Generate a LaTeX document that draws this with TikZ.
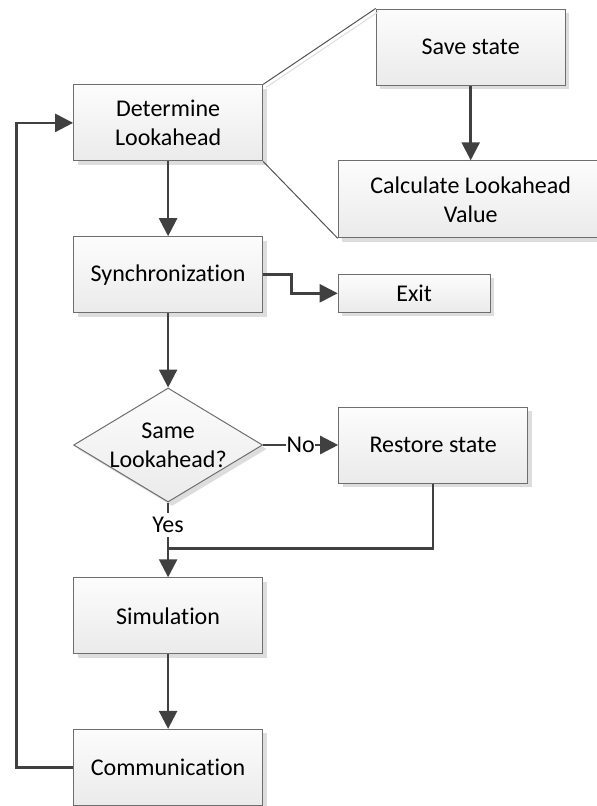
\documentclass[tikz,border=0pt]{standalone}
\usepackage{fontspec}
\setmainfont[Ligatures={NoCommon,NoContextual},Contextuals=NoAlternate]{Carlito}
\usetikzlibrary{shapes.geometric,arrows.meta,shadows}
\definecolor{edge}{HTML}{404040}
\definecolor{rim}{HTML}{6E6E6E}
\definecolor{shade}{HTML}{DDDDDD}
% keep the letters t and i apart
\newcommand{\tisplit}{t\kern0pt i}
\begin{document}
\begin{tikzpicture}[x=1pt,y=-1pt,
  font=\fontsize{24}{29}\selectfont,
  boxshadow/.style={drop shadow={shadow xshift=4pt,shadow yshift=-4pt,opacity=1,fill=shade}},
  block/.style={rectangle,draw=rim,line width=1pt,top color=black!1,bottom color=black!8,
    minimum width=189pt,minimum height=76pt,inner sep=0pt,align=center,boxshadow},
  decision/.style={diamond,draw=rim,line width=1pt,top color=black!1,bottom color=black!8,
    minimum width=189pt,minimum height=114pt,inner sep=0pt,aspect=1.66,boxshadow},
  flow/.style={draw=edge,line width=2.5pt,-{Triangle[length=18pt,width=18pt]}},
  plain/.style={draw=edge,line width=2.5pt},
  callout/.style={draw=edge!90,line width=1pt},
  lab/.style={fill=white,inner xsep=0.5pt,inner ysep=4pt}]
\useasboundingbox (0,0) rectangle (597,806);

% main column
\node[block] (det) at (168.1,122.9) {Determine\\Lookahead};
\node[block] (sync) at (168.1,274.7) {Synchroniza\tisplit on};
\node[decision] (dec) at (168.1,445) {};
\node[align=center,inner sep=0pt] (dectext) at (dec.center) {Same\\Lookahead?};
\node[block] (sim) at (168.1,615.8) {Simula\tisplit on};
\node[block] (comm) at (168.1,767.4) {Communica\tisplit on};

% side boxes
\node[block] (save) at (470.7,47) {Save state};
\node[block,minimum width=265pt,minimum height=77pt] (calc) at (470.7,199.3) {Calculate Lookahead\\Value};
\node[block,minimum width=152pt,minimum height=38pt] (exit) at (414.2,293.3) {Exit};
\node[block] (restore) at (433.2,445) {Restore state};

% callout lines from the lookahead step to its detail
\draw[draw=shade,line width=1pt,transform canvas={shift={(3pt,-3pt)}}] (det.north east) -- (save.north west);
\draw[callout] (det.north east) -- (save.north west);
\draw[callout] (det.south east) -- (calc.south west);

% flow
\draw[flow] (save.south) -- (calc.north);
\draw[flow] (det.south) -- (sync.north);
\draw[flow] (sync.east) -- ++(28.3,0) |- (exit.west);
\draw[flow] (sync.south) -- (dec.north);
\draw[flow] (dec.east) -- node[lab] (nolab) {No} (restore.west);
\draw[flow] (dec.south) -- node[lab,pos=0.3] (yeslab) {Yes} (sim.north);
\coordinate (join) at (168.1,548.7);
\draw[plain] (restore.south) |- (join);
\draw[flow] (sim.south) -- (comm.north);
\draw[flow] (comm.west) -- ++(-56.8,0) |- (det.west);
\end{tikzpicture}
\end{document}
